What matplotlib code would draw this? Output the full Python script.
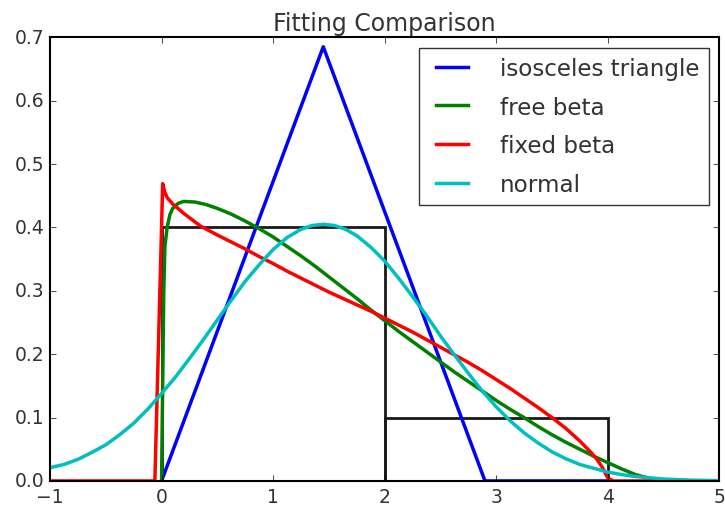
import numpy as np
import matplotlib
matplotlib.use('Agg')
import matplotlib.pyplot as plt

# histogram (bin edges + heights)
hist_left = [0, 2]
hist_height = [0.4, 0.1]
hist_width = 2

# isosceles triangle fit
tri_x = [0.0, 1.45, 2.9, 2.95, 4.0]
tri_y = [0.0, 0.685, 0.0, 0.0, 0.0]

# free beta fit
fb_x = [0.0, 0.01, 0.02, 0.03, 0.05, 0.075, 0.1, 0.15, 0.2, 0.3, 0.4, 0.5,
        0.625, 0.75, 0.875, 1.0, 1.125, 1.25, 1.375, 1.5, 1.625, 1.75, 1.875,
        2.0, 2.125, 2.25, 2.375, 2.5, 2.625, 2.75, 2.875, 3.0, 3.125, 3.25,
        3.375, 3.5, 3.625, 3.75, 3.875, 4.0, 4.125, 4.25, 4.375, 4.5, 4.6, 5.0]
fb_y = [0.0, 0.15, 0.30, 0.37, 0.40, 0.42, 0.43, 0.438, 0.441, 0.44, 0.436,
        0.43, 0.421, 0.41, 0.398, 0.385, 0.370, 0.355, 0.339, 0.322, 0.305,
        0.288, 0.270, 0.253, 0.236, 0.220, 0.204, 0.188, 0.172, 0.157, 0.142,
        0.127, 0.113, 0.100, 0.086, 0.073, 0.061, 0.050, 0.039, 0.029, 0.019,
        0.010, 0.004, 0.001, 0.0, 0.0]

# fixed beta fit
xb_x = [-1.0, -0.06, -0.03, 0.0, 0.01, 0.03, 0.05, 0.1, 0.2, 0.35, 0.5, 0.625,
        0.75, 0.875, 1.0, 1.125, 1.25, 1.375, 1.5, 1.625, 1.75, 1.875, 2.0,
        2.125, 2.25, 2.375, 2.5, 2.625, 2.75, 2.875, 3.0, 3.125, 3.25, 3.375,
        3.5, 3.625, 3.75, 3.85, 3.9, 3.95, 4.0, 4.05, 5.0]
xb_y = [0.0, 0.0, 0.20, 0.40, 0.469, 0.455, 0.447, 0.437, 0.422, 0.402, 0.388,
        0.377, 0.366, 0.354, 0.343, 0.331, 0.320, 0.309, 0.298, 0.288, 0.278,
        0.268, 0.257, 0.246, 0.235, 0.223, 0.211, 0.199, 0.187, 0.174, 0.160,
        0.146, 0.131, 0.116, 0.100, 0.083, 0.063, 0.045, 0.035, 0.022, 0.005,
        0.0, 0.0]

# normal fit
nm_x = [-1.0, -0.875, -0.75, -0.625, -0.5, -0.375, -0.25, -0.125, 0.0, 0.125,
        0.25, 0.375, 0.5, 0.625, 0.75, 0.875, 1.0, 1.125, 1.25, 1.35, 1.45,
        1.55, 1.65, 1.75, 1.875, 2.0, 2.125, 2.25, 2.375, 2.5, 2.625, 2.75,
        2.875, 3.0, 3.125, 3.25, 3.375, 3.5, 3.625, 3.75, 3.875, 4.0, 4.125,
        4.25, 4.5, 4.75, 5.0]
nm_y = [0.021, 0.026, 0.034, 0.045, 0.057, 0.073, 0.091, 0.113, 0.138, 0.164,
        0.193, 0.223, 0.254, 0.285, 0.315, 0.341, 0.365, 0.384, 0.397, 0.403,
        0.405, 0.403, 0.397, 0.387, 0.369, 0.347, 0.320, 0.291, 0.261, 0.229,
        0.199, 0.170, 0.142, 0.117, 0.095, 0.076, 0.060, 0.046, 0.035, 0.026,
        0.020, 0.014, 0.010, 0.007, 0.003, 0.0013, 0.0005]

plt.style.use('classic')
plt.rcParams['figure.facecolor'] = 'white'
plt.rcParams['savefig.facecolor'] = 'white'
plt.rcParams['text.color'] = '0.2'
plt.rcParams['xtick.labelcolor'] = '0.2'
plt.rcParams['ytick.labelcolor'] = '0.2'

fig = plt.figure(figsize=(7.25, 5.1), dpi=100)
ax = fig.add_axes([0.069, 0.055, 0.923, 0.870])

ax.bar(hist_left, hist_height, width=hist_width, align='edge', fill=False,
       edgecolor='0.1', linewidth=2)
lw = 2.5
ax.plot(tri_x, tri_y, color='b', lw=lw, label='isosceles triangle')
ax.plot(fb_x, fb_y, color='g', lw=lw, label='free beta')
ax.plot(xb_x, xb_y, color='r', lw=lw, label='fixed beta')
ax.plot(nm_x, nm_y, color='c', lw=lw, label='normal')

ax.set_xlim(-1, 5)
ax.set_ylim(0, 0.7)
ax.set_xticks(np.arange(-1, 6, 1))
ax.set_yticks(np.arange(0, 0.71, 0.1))
ax.tick_params(labelsize=13.5)
for s in ax.spines.values():
    s.set_linewidth(1.5)
ax.set_title('Fitting Comparison', fontsize=17)
leg = ax.legend(loc='upper right', fontsize=16.6, labelspacing=0.68,
                borderpad=0.4, handletextpad=1.1, borderaxespad=0.45)
leg.get_frame().set_edgecolor('0.2')

fig.savefig('out.png', dpi=100)
